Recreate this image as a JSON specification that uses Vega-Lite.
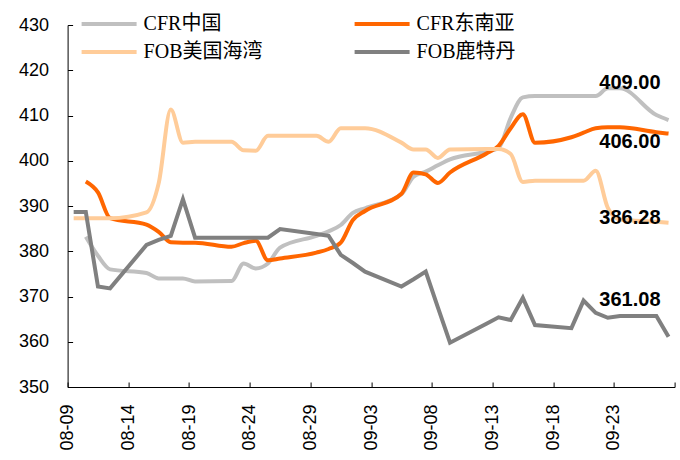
{
  "$schema": "https://vega.github.io/schema/vega-lite/v6.json",
  "width": 607,
  "height": 362,
  "autosize": "none",
  "padding": {"left": 67.6, "top": 25, "right": 5.4, "bottom": 73},
  "background": "white",
  "datasets": {
    "prices": [
      {"s": "CFR中国", "d": "2022-08-10T12:00:00Z", "v": 383.2},
      {"s": "CFR中国", "d": "2022-08-11T12:00:00Z", "v": 379.0},
      {"s": "CFR中国", "d": "2022-08-12T12:00:00Z", "v": 376.0},
      {"s": "CFR中国", "d": "2022-08-15T12:00:00Z", "v": 375.2},
      {"s": "CFR中国", "d": "2022-08-16T12:00:00Z", "v": 374.0},
      {"s": "CFR中国", "d": "2022-08-17T12:00:00Z", "v": 374.0},
      {"s": "CFR中国", "d": "2022-08-18T12:00:00Z", "v": 374.0},
      {"s": "CFR中国", "d": "2022-08-19T12:00:00Z", "v": 373.3},
      {"s": "CFR中国", "d": "2022-08-22T12:00:00Z", "v": 373.4},
      {"s": "CFR中国", "d": "2022-08-23T12:00:00Z", "v": 377.3},
      {"s": "CFR中国", "d": "2022-08-24T12:00:00Z", "v": 376.2},
      {"s": "CFR中国", "d": "2022-08-25T12:00:00Z", "v": 377.3},
      {"s": "CFR中国", "d": "2022-08-26T12:00:00Z", "v": 380.8},
      {"s": "CFR中国", "d": "2022-08-29T12:00:00Z", "v": 383.4},
      {"s": "CFR中国", "d": "2022-08-30T12:00:00Z", "v": 384.4},
      {"s": "CFR中国", "d": "2022-08-31T12:00:00Z", "v": 385.8},
      {"s": "CFR中国", "d": "2022-09-01T12:00:00Z", "v": 388.5},
      {"s": "CFR中国", "d": "2022-09-02T12:00:00Z", "v": 389.5},
      {"s": "CFR中国", "d": "2022-09-05T12:00:00Z", "v": 392.6},
      {"s": "CFR中国", "d": "2022-09-06T12:00:00Z", "v": 396.5},
      {"s": "CFR中国", "d": "2022-09-07T12:00:00Z", "v": 397.6},
      {"s": "CFR中国", "d": "2022-09-08T12:00:00Z", "v": 399.0},
      {"s": "CFR中国", "d": "2022-09-09T12:00:00Z", "v": 400.3},
      {"s": "CFR中国", "d": "2022-09-12T12:00:00Z", "v": 402.0},
      {"s": "CFR中国", "d": "2022-09-13T12:00:00Z", "v": 402.8},
      {"s": "CFR中国", "d": "2022-09-14T12:00:00Z", "v": 409.5},
      {"s": "CFR中国", "d": "2022-09-15T12:00:00Z", "v": 414.0},
      {"s": "CFR中国", "d": "2022-09-16T12:00:00Z", "v": 414.3},
      {"s": "CFR中国", "d": "2022-09-19T12:00:00Z", "v": 414.3},
      {"s": "CFR中国", "d": "2022-09-20T12:00:00Z", "v": 414.3},
      {"s": "CFR中国", "d": "2022-09-21T12:00:00Z", "v": 414.3},
      {"s": "CFR中国", "d": "2022-09-22T12:00:00Z", "v": 416.0},
      {"s": "CFR中国", "d": "2022-09-23T12:00:00Z", "v": 416.0},
      {"s": "CFR中国", "d": "2022-09-26T12:00:00Z", "v": 410.1},
      {"s": "CFR中国", "d": "2022-09-27T12:00:00Z", "v": 409.0},

      {"s": "CFR东南亚", "d": "2022-08-10T12:00:00Z", "v": 395.4},
      {"s": "CFR东南亚", "d": "2022-08-11T12:00:00Z", "v": 393.0},
      {"s": "CFR东南亚", "d": "2022-08-12T12:00:00Z", "v": 387.3},
      {"s": "CFR东南亚", "d": "2022-08-15T12:00:00Z", "v": 385.9},
      {"s": "CFR东南亚", "d": "2022-08-16T12:00:00Z", "v": 384.3},
      {"s": "CFR东南亚", "d": "2022-08-17T12:00:00Z", "v": 382.0},
      {"s": "CFR东南亚", "d": "2022-08-18T12:00:00Z", "v": 381.9},
      {"s": "CFR东南亚", "d": "2022-08-19T12:00:00Z", "v": 381.9},
      {"s": "CFR东南亚", "d": "2022-08-22T12:00:00Z", "v": 381.0},
      {"s": "CFR东南亚", "d": "2022-08-23T12:00:00Z", "v": 381.8},
      {"s": "CFR东南亚", "d": "2022-08-24T12:00:00Z", "v": 382.3},
      {"s": "CFR东南亚", "d": "2022-08-25T12:00:00Z", "v": 378.0},
      {"s": "CFR东南亚", "d": "2022-08-26T12:00:00Z", "v": 378.4},
      {"s": "CFR东南亚", "d": "2022-08-29T12:00:00Z", "v": 379.7},
      {"s": "CFR东南亚", "d": "2022-08-30T12:00:00Z", "v": 380.5},
      {"s": "CFR东南亚", "d": "2022-08-31T12:00:00Z", "v": 381.9},
      {"s": "CFR东南亚", "d": "2022-09-01T12:00:00Z", "v": 386.9},
      {"s": "CFR东南亚", "d": "2022-09-02T12:00:00Z", "v": 388.9},
      {"s": "CFR东南亚", "d": "2022-09-05T12:00:00Z", "v": 392.7},
      {"s": "CFR东南亚", "d": "2022-09-06T12:00:00Z", "v": 397.4},
      {"s": "CFR东南亚", "d": "2022-09-07T12:00:00Z", "v": 397.0},
      {"s": "CFR东南亚", "d": "2022-09-08T12:00:00Z", "v": 395.1},
      {"s": "CFR东南亚", "d": "2022-09-09T12:00:00Z", "v": 397.4},
      {"s": "CFR东南亚", "d": "2022-09-12T12:00:00Z", "v": 401.6},
      {"s": "CFR东南亚", "d": "2022-09-13T12:00:00Z", "v": 403.3},
      {"s": "CFR东南亚", "d": "2022-09-14T12:00:00Z", "v": 407.2},
      {"s": "CFR东南亚", "d": "2022-09-15T12:00:00Z", "v": 410.3},
      {"s": "CFR东南亚", "d": "2022-09-16T12:00:00Z", "v": 404.0},
      {"s": "CFR东南亚", "d": "2022-09-19T12:00:00Z", "v": 405.2},
      {"s": "CFR东南亚", "d": "2022-09-20T12:00:00Z", "v": 406.2},
      {"s": "CFR东南亚", "d": "2022-09-21T12:00:00Z", "v": 407.2},
      {"s": "CFR东南亚", "d": "2022-09-22T12:00:00Z", "v": 407.4},
      {"s": "CFR东南亚", "d": "2022-09-23T12:00:00Z", "v": 407.4},
      {"s": "CFR东南亚", "d": "2022-09-26T12:00:00Z", "v": 406.3},
      {"s": "CFR东南亚", "d": "2022-09-27T12:00:00Z", "v": 406.0},

      {"s": "FOB美国海湾", "d": "2022-08-09T12:00:00Z", "v": 387.3},
      {"s": "FOB美国海湾", "d": "2022-08-10T12:00:00Z", "v": 387.3},
      {"s": "FOB美国海湾", "d": "2022-08-11T12:00:00Z", "v": 387.3},
      {"s": "FOB美国海湾", "d": "2022-08-12T12:00:00Z", "v": 387.3},
      {"s": "FOB美国海湾", "d": "2022-08-15T12:00:00Z", "v": 388.6},
      {"s": "FOB美国海湾", "d": "2022-08-16T12:00:00Z", "v": 395.0},
      {"s": "FOB美国海湾", "d": "2022-08-17T12:00:00Z", "v": 411.3},
      {"s": "FOB美国海湾", "d": "2022-08-18T12:00:00Z", "v": 404.0},
      {"s": "FOB美国海湾", "d": "2022-08-19T12:00:00Z", "v": 404.2},
      {"s": "FOB美国海湾", "d": "2022-08-22T12:00:00Z", "v": 404.2},
      {"s": "FOB美国海湾", "d": "2022-08-23T12:00:00Z", "v": 402.3},
      {"s": "FOB美国海湾", "d": "2022-08-24T12:00:00Z", "v": 402.2},
      {"s": "FOB美国海湾", "d": "2022-08-25T12:00:00Z", "v": 405.5},
      {"s": "FOB美国海湾", "d": "2022-08-26T12:00:00Z", "v": 405.5},
      {"s": "FOB美国海湾", "d": "2022-08-29T12:00:00Z", "v": 405.5},
      {"s": "FOB美国海湾", "d": "2022-08-30T12:00:00Z", "v": 404.2},
      {"s": "FOB美国海湾", "d": "2022-08-31T12:00:00Z", "v": 407.2},
      {"s": "FOB美国海湾", "d": "2022-09-01T12:00:00Z", "v": 407.2},
      {"s": "FOB美国海湾", "d": "2022-09-02T12:00:00Z", "v": 407.2},
      {"s": "FOB美国海湾", "d": "2022-09-05T12:00:00Z", "v": 404.0},
      {"s": "FOB美国海湾", "d": "2022-09-06T12:00:00Z", "v": 402.5},
      {"s": "FOB美国海湾", "d": "2022-09-07T12:00:00Z", "v": 402.5},
      {"s": "FOB美国海湾", "d": "2022-09-08T12:00:00Z", "v": 400.6},
      {"s": "FOB美国海湾", "d": "2022-09-09T12:00:00Z", "v": 402.5},
      {"s": "FOB美国海湾", "d": "2022-09-12T12:00:00Z", "v": 402.6},
      {"s": "FOB美国海湾", "d": "2022-09-13T12:00:00Z", "v": 402.6},
      {"s": "FOB美国海湾", "d": "2022-09-14T12:00:00Z", "v": 401.5},
      {"s": "FOB美国海湾", "d": "2022-09-15T12:00:00Z", "v": 395.3},
      {"s": "FOB美国海湾", "d": "2022-09-16T12:00:00Z", "v": 395.6},
      {"s": "FOB美国海湾", "d": "2022-09-19T12:00:00Z", "v": 395.6},
      {"s": "FOB美国海湾", "d": "2022-09-20T12:00:00Z", "v": 395.6},
      {"s": "FOB美国海湾", "d": "2022-09-21T12:00:00Z", "v": 397.8},
      {"s": "FOB美国海湾", "d": "2022-09-22T12:00:00Z", "v": 389.6},
      {"s": "FOB美国海湾", "d": "2022-09-23T12:00:00Z", "v": 387.0},
      {"s": "FOB美国海湾", "d": "2022-09-26T12:00:00Z", "v": 386.5},
      {"s": "FOB美国海湾", "d": "2022-09-27T12:00:00Z", "v": 386.28},

      {"s": "FOB鹿特丹", "d": "2022-08-09T12:00:00Z", "v": 388.7},
      {"s": "FOB鹿特丹", "d": "2022-08-10T12:00:00Z", "v": 388.7},
      {"s": "FOB鹿特丹", "d": "2022-08-11T12:00:00Z", "v": 372.2},
      {"s": "FOB鹿特丹", "d": "2022-08-12T12:00:00Z", "v": 371.8},
      {"s": "FOB鹿特丹", "d": "2022-08-15T12:00:00Z", "v": 381.4},
      {"s": "FOB鹿特丹", "d": "2022-08-16T12:00:00Z", "v": 382.5},
      {"s": "FOB鹿特丹", "d": "2022-08-17T12:00:00Z", "v": 383.4},
      {"s": "FOB鹿特丹", "d": "2022-08-18T12:00:00Z", "v": 391.5},
      {"s": "FOB鹿特丹", "d": "2022-08-19T12:00:00Z", "v": 383.0},
      {"s": "FOB鹿特丹", "d": "2022-08-22T12:00:00Z", "v": 383.0},
      {"s": "FOB鹿特丹", "d": "2022-08-23T12:00:00Z", "v": 383.0},
      {"s": "FOB鹿特丹", "d": "2022-08-24T12:00:00Z", "v": 383.0},
      {"s": "FOB鹿特丹", "d": "2022-08-25T12:00:00Z", "v": 383.0},
      {"s": "FOB鹿特丹", "d": "2022-08-26T12:00:00Z", "v": 384.9},
      {"s": "FOB鹿特丹", "d": "2022-08-29T12:00:00Z", "v": 383.8},
      {"s": "FOB鹿特丹", "d": "2022-08-30T12:00:00Z", "v": 383.4},
      {"s": "FOB鹿特丹", "d": "2022-08-31T12:00:00Z", "v": 379.2},
      {"s": "FOB鹿特丹", "d": "2022-09-01T12:00:00Z", "v": 377.4},
      {"s": "FOB鹿特丹", "d": "2022-09-02T12:00:00Z", "v": 375.5},
      {"s": "FOB鹿特丹", "d": "2022-09-05T12:00:00Z", "v": 372.2},
      {"s": "FOB鹿特丹", "d": "2022-09-06T12:00:00Z", "v": 373.8},
      {"s": "FOB鹿特丹", "d": "2022-09-07T12:00:00Z", "v": 375.5},
      {"s": "FOB鹿特丹", "d": "2022-09-08T12:00:00Z", "v": 367.6},
      {"s": "FOB鹿特丹", "d": "2022-09-09T12:00:00Z", "v": 359.8},
      {"s": "FOB鹿特丹", "d": "2022-09-12T12:00:00Z", "v": 364.0},
      {"s": "FOB鹿特丹", "d": "2022-09-13T12:00:00Z", "v": 365.4},
      {"s": "FOB鹿特丹", "d": "2022-09-14T12:00:00Z", "v": 364.8},
      {"s": "FOB鹿特丹", "d": "2022-09-15T12:00:00Z", "v": 369.7},
      {"s": "FOB鹿特丹", "d": "2022-09-16T12:00:00Z", "v": 363.7},
      {"s": "FOB鹿特丹", "d": "2022-09-19T12:00:00Z", "v": 363.0},
      {"s": "FOB鹿特丹", "d": "2022-09-20T12:00:00Z", "v": 369.1},
      {"s": "FOB鹿特丹", "d": "2022-09-21T12:00:00Z", "v": 366.4},
      {"s": "FOB鹿特丹", "d": "2022-09-22T12:00:00Z", "v": 365.3},
      {"s": "FOB鹿特丹", "d": "2022-09-23T12:00:00Z", "v": 365.7},
      {"s": "FOB鹿特丹", "d": "2022-09-26T12:00:00Z", "v": 365.7},
      {"s": "FOB鹿特丹", "d": "2022-09-27T12:00:00Z", "v": 361.08}
    ],
    "labels": [
      {"s": "CFR中国", "d": "2022-09-27T12:00:00Z", "v": 409.0, "t": "409.00"},
      {"s": "CFR东南亚", "d": "2022-09-27T12:00:00Z", "v": 406.0, "t": "406.00"},
      {"s": "FOB美国海湾", "d": "2022-09-27T12:00:00Z", "v": 386.28, "t": "386.28"},
      {"s": "FOB鹿特丹", "d": "2022-09-27T12:00:00Z", "v": 361.08, "t": "361.08"}
    ]
  },
  "encoding": {
    "x": {
      "field": "d",
      "type": "temporal",
      "scale": {
        "type": "utc",
        "domain": [
          {"year": 2022, "month": 8, "date": 9, "utc": true},
          {"year": 2022, "month": 9, "date": 28, "utc": true}
        ]
      },
      "axis": {
        "title": null,
        "values": [
          {"year": 2022, "month": 8, "date": 9, "utc": true},
          {"year": 2022, "month": 8, "date": 14, "utc": true},
          {"year": 2022, "month": 8, "date": 19, "utc": true},
          {"year": 2022, "month": 8, "date": 24, "utc": true},
          {"year": 2022, "month": 8, "date": 29, "utc": true},
          {"year": 2022, "month": 9, "date": 3, "utc": true},
          {"year": 2022, "month": 9, "date": 8, "utc": true},
          {"year": 2022, "month": 9, "date": 13, "utc": true},
          {"year": 2022, "month": 9, "date": 18, "utc": true},
          {"year": 2022, "month": 9, "date": 23, "utc": true},
          {"year": 2022, "month": 9, "date": 28, "utc": true}
        ],
        "labelExpr": "datum.value >= utc(2022, 8, 28) ? '' : utcFormat(datum.value, '%m-%d')",
        "labelAngle": 270,
        "labelPadding": 22,
        "tickSize": -5
      }
    },
    "y": {
      "field": "v",
      "type": "quantitative",
      "scale": {"domain": [350, 430], "nice": false, "zero": false},
      "axis": {
        "title": null,
        "values": [350, 360, 370, 380, 390, 400, 410, 420, 430],
        "labelPadding": 24,
        "tickSize": -5
      }
    }
  },
  "layer": [
    {
      "data": {"name": "prices"},
      "transform": [{"filter": "datum.s !== 'FOB鹿特丹'"}],
      "mark": {"type": "line", "strokeWidth": 4, "interpolate": "monotone"},
      "encoding": {
        "color": {
          "field": "s",
          "type": "nominal",
          "scale": {
            "domain": ["CFR中国", "FOB美国海湾", "CFR东南亚", "FOB鹿特丹"],
            "range": ["#C0C0C0", "#FFCC99", "#FF6600", "#808080"]
          },
          "legend": {
            "title": null,
            "orient": "none",
            "legendX": 12,
            "legendY": -11,
            "columns": 2,
            "columnPadding": 90,
            "rowPadding": 8,
            "clipHeight": 20,
            "padding": 0,
            "symbolType": "stroke",
            "symbolSize": 3025,
            "symbolStrokeWidth": 4,
            "labelFont": "Liberation Serif, Noto Sans CJK SC",
            "labelFontSize": 20,
            "labelColor": "#000",
            "labelOffset": 5,
            "labelLimit": 300
          }
        }
      }
    },
    {
      "data": {"name": "prices"},
      "transform": [{"filter": "datum.s === 'FOB鹿特丹'"}],
      "mark": {"type": "line", "strokeWidth": 4},
      "encoding": {"color": {"field": "s", "type": "nominal"}}
    },
    {
      "data": {"name": "labels"},
      "transform": [{"filter": "datum.s === 'CFR中国'"}],
      "mark": {"type": "text", "align": "right", "baseline": "middle", "dx": -8, "dy": -37, "font": "Liberation Sans", "fontWeight": "bold", "fontSize": 20, "color": "#000"},
      "encoding": {"text": {"field": "t"}}
    },
    {
      "data": {"name": "labels"},
      "transform": [{"filter": "datum.s === 'CFR东南亚'"}],
      "mark": {"type": "text", "align": "right", "baseline": "middle", "dx": -8, "dy": 8, "font": "Liberation Sans", "fontWeight": "bold", "fontSize": 20, "color": "#000"},
      "encoding": {"text": {"field": "t"}}
    },
    {
      "data": {"name": "labels"},
      "transform": [{"filter": "datum.s === 'FOB美国海湾'"}],
      "mark": {"type": "text", "align": "right", "baseline": "middle", "dx": -8, "dy": -5, "font": "Liberation Sans", "fontWeight": "bold", "fontSize": 20, "color": "#000"},
      "encoding": {"text": {"field": "t"}}
    },
    {
      "data": {"name": "labels"},
      "transform": [{"filter": "datum.s === 'FOB鹿特丹'"}],
      "mark": {"type": "text", "align": "right", "baseline": "middle", "dx": -8, "dy": -37, "font": "Liberation Sans", "fontWeight": "bold", "fontSize": 20, "color": "#000"},
      "encoding": {"text": {"field": "t"}}
    }
  ],
  "config": {
    "view": {"stroke": null},
    "axis": {
      "grid": false,
      "domainColor": "#000",
      "domainWidth": 1,
      "tickColor": "#000",
      "tickWidth": 1,
      "labelColor": "#000",
      "labelFont": "Liberation Sans",
      "labelFontSize": 18
    }
  }
}
